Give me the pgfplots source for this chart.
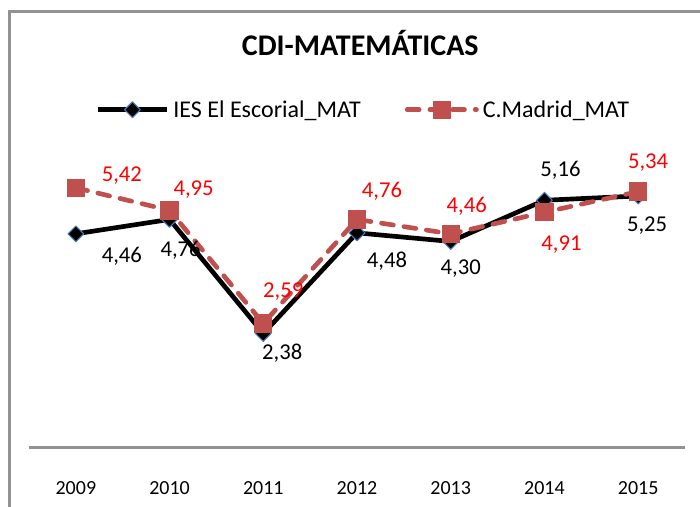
\documentclass[border=0pt]{standalone}
\usepackage{pgfplots}
\pgfplotsset{compat=1.18}
\usepackage{pgfplotstable}
\usepackage{fontspec}
\setmainfont{Carlito}
\definecolor{mred}{HTML}{C0504D}
\definecolor{mblue}{HTML}{4A7EBB}
\definecolor{frame}{HTML}{929292}

\pgfplotstableread{
x y lab
0 4.46 4,46
1 4.76 4,76
2 2.38 2,38
3 4.48 4,48
4 4.30 4,30
5 5.16 5,16
6 5.25 5,25
}\ies

\pgfplotstableread{
x y lab
0 5.42 5,42
1 4.95 4,95
2 2.59 2,59
3 4.76 4,76
4 4.46 4,46
5 4.91 4,91
6 5.34 5,34
}\madrid

% label offsets in pixels (dx right, dy up)
\def\iesdx{{46,11,19,30,10,16,9}}
\def\iesdy{{-22,-31,-20,-28,-27,30,-30}}
\def\maddx{{46,24,20,25,16,17,10}}
\def\maddy{{12,21,32,28,28,-32,29}}

\pgfplotsset{
  lbl/.style n args={3}{
    point meta=explicit symbolic,
    nodes near coords,
    visualization depends on={rawx \as \idx},
    every node near coord/.append style={anchor=center,
      xshift={#2[round(\idx)]*0.75pt}, yshift={#3[round(\idx)]*0.75pt},
      font=\fontsize{17}{20}\selectfont, text=#1},
  },
  iesstyle/.style={black, line width=3.5pt, line join=round, mark=square*, mark size=4.2pt,
    mark options={solid, rotate=45, fill=black, draw=mblue, line width=0.8pt}},
  madstyle/.style={mred, line width=3.5pt, line cap=round, dash pattern=on 9pt off 8pt, mark=square*, mark size=6.5pt,
    mark options={solid, fill=mred, draw=mred, line width=0pt}},
}

\begin{document}
\begin{tikzpicture}
\useasboundingbox (0,0) rectangle (525pt,380.25pt);
\draw[frame, line width=1.8pt] (7pt,-20pt) -- (7pt,371.5pt) -- (540pt,371.5pt);
\begin{axis}[
  at={(21.75pt,44.625pt)}, anchor=south west,
  width=492pt, height=215.6pt, scale only axis,
  xmin=-0.5, xmax=6.5, ymin=0, ymax=6,
  clip=false,
  axis y line=none,
  axis x line=bottom,
  x axis line style={-, draw=frame, line width=1.5pt},
  xtick={0,1,2,3,4,5,6},
  xticklabels={2009,2010,2011,2012,2013,2014,2015},
  major tick length=0pt,
  xticklabel style={anchor=base, yshift=-35pt, font=\fontsize{15}{18}\selectfont},
  title={CDI-MATEMÁTICAS},
  title style={at={(0.505,1.378)}, anchor=center, font=\bfseries\fontsize{22.5}{26}\selectfont},
  legend columns=2,
  legend style={at={(0.511,1.175)}, anchor=center, draw=none, fill=none,
    font=\fontsize{18}{21}\selectfont,
    /tikz/every even column/.append style={column sep=30pt},
    nodes={inner xsep=3pt}},
  legend cell align=left,
  legend image code/.code={\draw[mark repeat=2,mark phase=2,#1] plot coordinates {(0pt,0pt) (26pt,0pt) (52pt,0pt)};},
]
\addlegendimage{iesstyle}
\addlegendentry{IES El Escorial\_MAT}
\addlegendimage{madstyle}
\addlegendentry{C.Madrid\_MAT}
\addplot[iesstyle, lbl={black}{\iesdx}{\iesdy}, forget plot]
  table[x=x, y=y, meta=lab] {\ies};
\addplot[madstyle, lbl={red}{\maddx}{\maddy}, forget plot]
  table[x=x, y=y, meta=lab] {\madrid};
\end{axis}
\end{tikzpicture}
\end{document}
